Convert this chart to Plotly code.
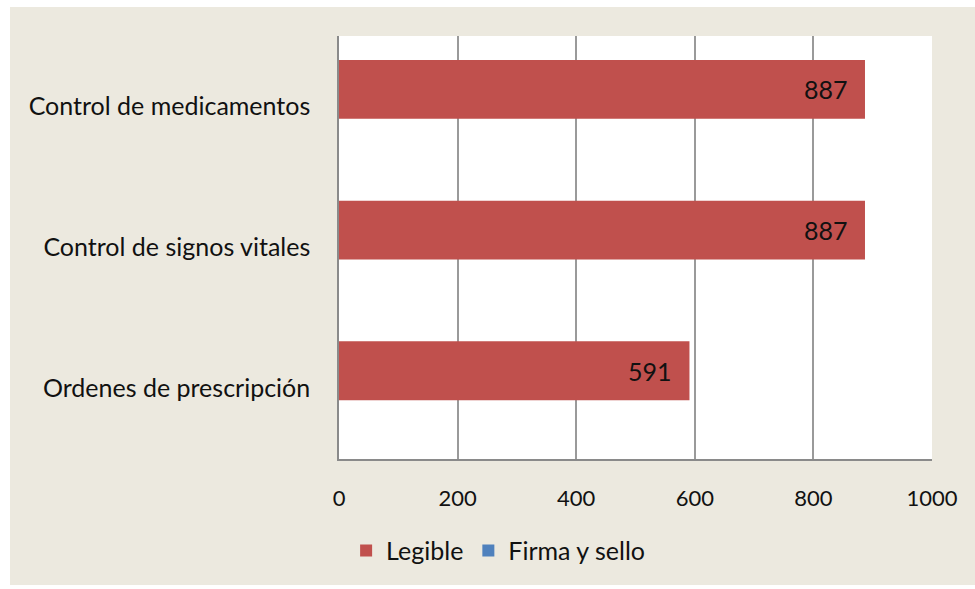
import plotly.graph_objects as go

# Categories listed bottom-to-top as they appear on the vertical axis
categories = ["Ordenes de prescripción", "Control de signos vitales", "Control de medicamentos"]
legible = [591, 887, 887]
firma_sello = [None, None, None]

x_ticks = [0, 200, 400, 600, 800, 1000]

RED = "#C0504D"
BLUE = "#4F81BD"
PANEL = "#ECE9DF"
TEXT = "#111111"
FONT = "Lato"

BAR_WIDTH = 0.418
BAR_OFFSET = -0.088

fig = go.Figure()

fig.add_trace(go.Bar(
    name="Legible",
    y=categories,
    x=legible,
    orientation="h",
    marker=dict(color=RED, line=dict(width=0)),
    width=BAR_WIDTH,
    offset=BAR_OFFSET,
    hoverinfo="x+y",
))

fig.add_trace(go.Bar(
    name="Firma y sello",
    y=categories,
    x=firma_sello,
    orientation="h",
    marker=dict(color=BLUE, line=dict(width=0)),
    width=BAR_WIDTH,
    offset=BAR_OFFSET - BAR_WIDTH,
))

# Value labels just inside the end of each Legible bar
plot_h_px = 589 - 36 - 130
cat_px = plot_h_px / len(categories)
bar_center_shift = (BAR_OFFSET + BAR_WIDTH / 2) * cat_px
for cat, val in zip(categories, legible):
    fig.add_annotation(
        x=val, y=cat, xref="x", yref="y",
        text=str(val), showarrow=False,
        xanchor="right", yanchor="middle",
        xshift=-15, yshift=bar_center_shift,
        font=dict(family=FONT, size=25, color=TEXT),
    )

# Chart panel behind everything, then the white plotting area on top of it
fig.add_shape(type="rect", xref="paper", yref="paper",
              x0=-0.5548, x1=1.08, y0=-0.2979, y1=1.0686,
              fillcolor=PANEL, line=dict(width=0), layer="below")
fig.add_shape(type="rect", xref="paper", yref="paper",
              x0=0, x1=1, y0=0, y1=1,
              fillcolor="white", line=dict(width=0), layer="below")

fig.update_layout(
    width=975,
    height=589,
    margin=dict(l=339, r=43, t=36, b=130),
    paper_bgcolor="white",
    plot_bgcolor="white",
    font=dict(family=FONT, size=22, color=TEXT),
    showlegend=True,
    legend=dict(
        orientation="h",
        x=0.012, xanchor="left",
        y=-0.217, yanchor="middle",
        font=dict(family=FONT, size=25, color=TEXT),
        bgcolor="rgba(0,0,0,0)",
        itemclick=False,
        tracegroupgap=0,
    ),
)

fig.update_xaxes(
    range=[0, 1000],
    tickvals=x_ticks,
    ticktext=[str(v) for v in x_ticks],
    showgrid=True,
    gridcolor="#9a9a9a",
    gridwidth=1.5,
    zeroline=False,
    showline=True,
    linecolor="#8a8a8a",
    linewidth=1.5,
    ticks="",
    ticklabelstandoff=19,
    tickfont=dict(family=FONT, size=22, color=TEXT),
    fixedrange=True,
)

fig.update_yaxes(
    type="category",
    categoryorder="array",
    categoryarray=categories,
    showgrid=False,
    zeroline=False,
    showline=True,
    linecolor="#8a8a8a",
    linewidth=1.5,
    ticks="",
    ticklabelstandoff=22,
    tickfont=dict(family=FONT, size=25, color=TEXT),
    fixedrange=True,
)

fig.write_html("out.html")
